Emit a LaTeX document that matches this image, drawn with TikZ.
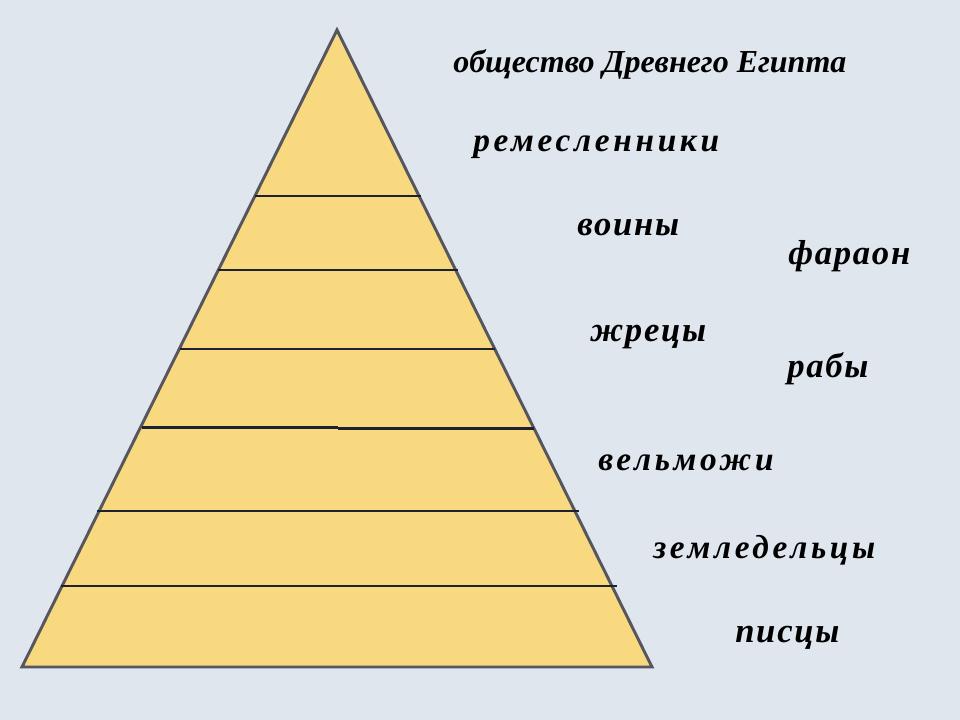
\documentclass[tikz,border=0pt]{standalone}
\usepackage{fontspec}
\setmainfont{Liberation Serif}
\definecolor{bgcol}{HTML}{DFE6EE}
\definecolor{pyrfill}{HTML}{F9D980}
\definecolor{pyredge}{HTML}{55565E}
\definecolor{layercol}{HTML}{1E2230}
\begin{document}
\begin{tikzpicture}[x=0.75pt, y=-0.75pt, word/.style = {anchor=base west, inner sep=0pt, font=\fontsize{26}{30}\selectfont\bfseries\itshape\addfontfeature{LetterSpace=5}}, spaced/.style = {word, font=\fontsize{25}{30}\selectfont\bfseries\itshape\addfontfeature{LetterSpace=11}}, layer/.style = {draw=layercol, line width=1.8pt}]
		\fill[bgcol] (0,0) rectangle (960,720);
		\filldraw[fill=pyrfill, draw=pyredge, line width=2.2pt] (337,30) -- (652,667) -- (22,667) -- cycle;
		\draw[layer] (255,196) -- (421,196);
		\draw[layer] (218,270) -- (458,270);
		\draw[layer] (180,349) -- (495,349);
		\draw[layer] (142,427.5) -- (338,427.5);
		\draw[layer] (338,428.5) -- (534,428.5);
		\draw[layer] (97,511) -- (579,511);
		\draw[layer] (61,586) -- (617,586);
		\node[word, font=\fontsize{24}{28}\selectfont\bfseries\itshape] (title) at (453,73) {общество Древнего Египта};
		\node[spaced] (crafts) at (473,152) {ремесленники};
		\node[word] (warriors) at (577,236) {воины};
		\node[word] (pharaoh) at (788,265) {фараон};
		\node[word] (priests) at (590,341) {жрецы};
		\node[word] (slaves) at (787,377) {рабы};
		\node[spaced] (nobles) at (598,470) {вельможи};
		\node[spaced] (farmers) at (653,558) {земледельцы};
		\node[word] (scribes) at (735,642) {писцы};
	\end{tikzpicture}
\end{document}
